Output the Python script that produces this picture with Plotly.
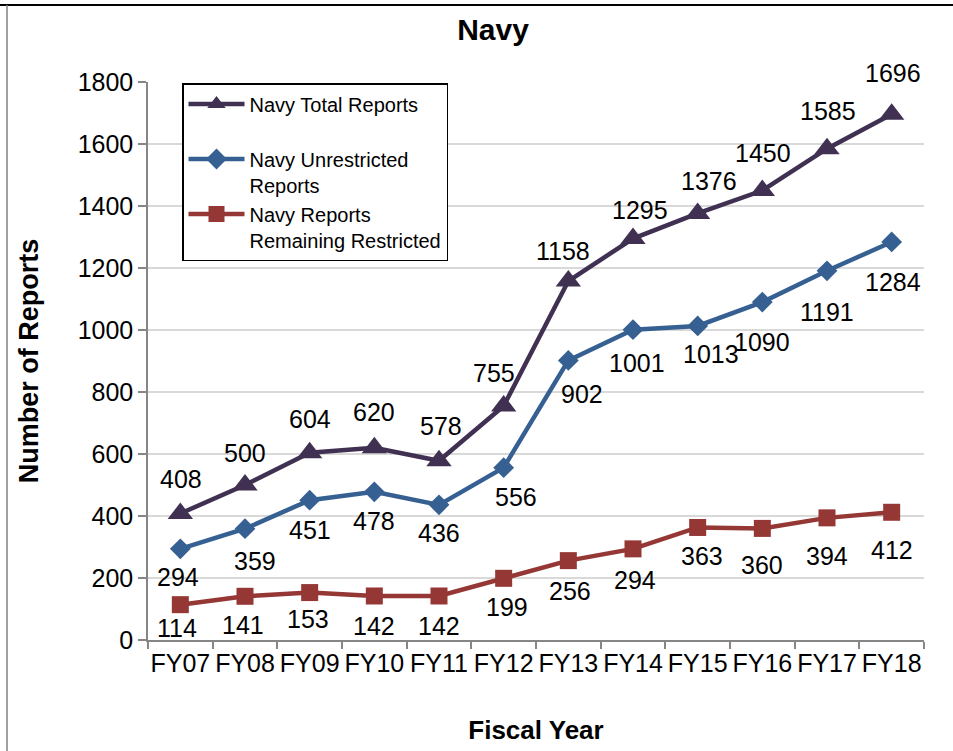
import plotly.graph_objects as go

# ---- data ----
years = ["FY07", "FY08", "FY09", "FY10", "FY11", "FY12",
         "FY13", "FY14", "FY15", "FY16", "FY17", "FY18"]
total_reports = [408, 500, 604, 620, 578, 755, 1158, 1295, 1376, 1450, 1585, 1696]
unrestricted_reports = [294, 359, 451, 478, 436, 556, 902, 1001, 1013, 1090, 1191, 1284]
restricted_reports = [114, 141, 153, 142, 142, 199, 256, 294, 363, 360, 394, 412]
y_ticks = [0, 200, 400, 600, 800, 1000, 1200, 1400, 1600, 1800]

# ---- style ----
FONT = "Liberation Sans, Arial, sans-serif"
C_TOTAL = "#403152"
C_UNR = "#376092"
C_RES = "#953735"

# label offsets in pixels (style only)
total_dx = [1, 0, 0, 0, 2, -10, -5, 7, 11, 1, 1, 1]
total_dy = [35, 32, 34, 36, 35, 33, 30, 29, 32, 38, 38, 41]
unr_dx = [-2, 10, 0, 0, 0, 12, 14, 4, 13, 0, 0, 1]
unr_dy = [-28, -32, -30, -29, -28, -29, -34, -33, -28, -40, -41, -40]
res_dx = [-3, -2, -2, 0, 0, 3, 2, 2, 4, 0, 0, 0]
res_dy = [-23, -29, -26, -30, -30, -29, -30, -31, -29, -37, -38, -38]

fig = go.Figure()
fig.add_trace(go.Scatter(
    x=years, y=total_reports, mode="lines+markers",
    name="Navy Total Reports<br>\u00a0",
    line=dict(color=C_TOTAL, width=4.5),
    marker=dict(symbol="triangle-up", size=22, color=C_TOTAL)))
fig.add_trace(go.Scatter(
    x=years, y=unrestricted_reports, mode="lines+markers",
    name="Navy Unrestricted<br>Reports",
    line=dict(color=C_UNR, width=4.5),
    marker=dict(symbol="diamond", size=16, color=C_UNR)))
fig.add_trace(go.Scatter(
    x=years, y=restricted_reports, mode="lines+markers",
    name="Navy Reports<br>Remaining Restricted",
    line=dict(color=C_RES, width=4.5),
    marker=dict(symbol="square", size=17, color=C_RES)))

annotations = []
for vals, dxs, dys in [(total_reports, total_dx, total_dy),
                       (unrestricted_reports, unr_dx, unr_dy),
                       (restricted_reports, res_dx, res_dy)]:
    for cat, v, dx, dy in zip(years, vals, dxs, dys):
        annotations.append(dict(
            x=cat, y=v, xref="x", yref="y", text=str(v), showarrow=False,
            xanchor="center", yanchor="middle", xshift=dx, yshift=dy,
            font=dict(family=FONT, size=25, color="#000000")))

W, H = 953, 751
L, R, T, B = 148, 29, 82, 111
pw, ph = W - L - R, H - T - B

def px_x(p):
    return (p - L) / pw

def px_y(p):
    return (H - B - p) / ph

shapes = [
    dict(type="line", xref="paper", yref="paper",
         x0=px_x(0), x1=px_x(W), y0=px_y(5), y1=px_y(5),
         line=dict(color="#000000", width=2)),
    dict(type="line", xref="paper", yref="paper",
         x0=px_x(7), x1=px_x(7), y0=px_y(5), y1=px_y(H),
         line=dict(color="#808080", width=1.5)),
]

fig.update_layout(
    width=W, height=H,
    margin=dict(l=L, r=R, t=T, b=B, autoexpand=False),
    paper_bgcolor="white", plot_bgcolor="white",
    font=dict(family=FONT, color="#000000"),
    title=dict(text="<b>Navy</b>", x=493 / W, xanchor="center",
               y=1 - 29 / H, yanchor="middle", yref="container",
               font=dict(family=FONT, size=30, color="#000000")),
    showlegend=True,
    legend=dict(x=px_x(182), y=px_y(83), xanchor="left", yanchor="top",
                bgcolor="white", bordercolor="#000000", borderwidth=1.5,
                font=dict(family=FONT, size=20, color="#000000"),
                valign="top", itemwidth=56, tracegroupgap=0),
    xaxis=dict(type="category", range=[-0.5, 11.5],
               tickson="boundaries", ticks="outside", ticklen=7,
               tickcolor="#868686", tickwidth=1.5, tickangle=0,
               showline=True, linecolor="#868686", linewidth=1.5,
               showgrid=False, zeroline=False,
               tickfont=dict(family=FONT, size=25, color="#000000"),
               title=dict(text="<b>Fiscal Year</b>", standoff=45,
                          font=dict(family=FONT, size=26, color="#000000"))),
    yaxis=dict(range=[0, 1800], tickvals=y_ticks,
               ticks="outside", ticklen=8, tickcolor="#868686", tickwidth=1.5,
               showline=True, linecolor="#868686", linewidth=1.5,
               showgrid=True, gridcolor="#D9D9D9", gridwidth=1.5,
               zeroline=False,
               tickfont=dict(family=FONT, size=25, color="#000000"),
               title=dict(text="<b>Number of Reports</b>", standoff=31,
                          font=dict(family=FONT, size=27, color="#000000"))),
    annotations=annotations,
    shapes=shapes,
)

fig.write_html("out.html", config={"displayModeBar": False},
               post_script="document.body.style.margin='0';")
